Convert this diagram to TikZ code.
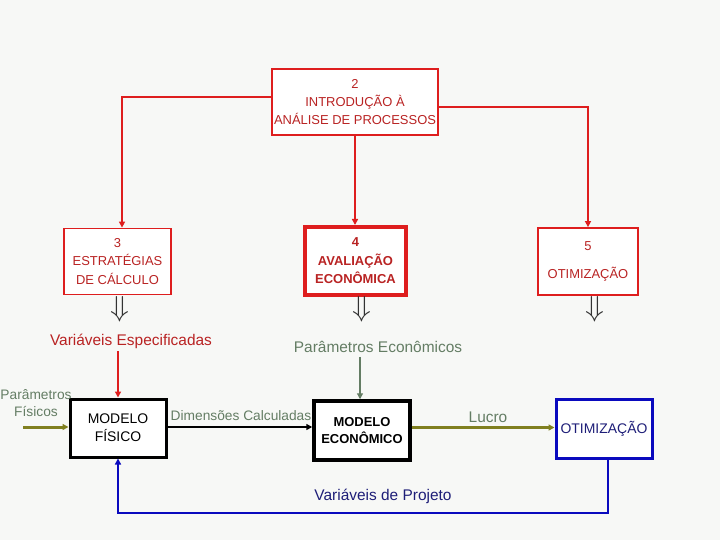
\documentclass[tikz,border=0pt]{standalone}
\usepackage{fontspec}
\setmainfont{Liberation Sans}
\usetikzlibrary{arrows.meta}
\definecolor{boxred}{RGB}{222,30,30}
\definecolor{txtred}{RGB}{185,35,35}
\definecolor{grgrey}{RGB}{100,125,100}
\definecolor{olivearr}{RGB}{128,128,32}
\definecolor{optblue}{RGB}{10,10,190}
\definecolor{navytxt}{RGB}{30,30,120}
\definecolor{bgcol}{RGB}{247,248,246}
\newcommand{\bigdown}{\scalebox{3.1}[2.9]{$\Downarrow$}}

\begin{document}
\begin{tikzpicture}[x=1bp,y=-1bp,
    redbox/.style={draw=boxred,line width=1.8bp,fill=white,text=txtred,align=center,inner sep=0pt,font=\fontsize{13}{18.5}\selectfont},
    blkbox/.style={draw=black,line width=3bp,fill=white,align=center,inner sep=0pt,font=\fontsize{14}{18}\selectfont},
    lbl/.style={text=grgrey,font=\fontsize{15}{17}\selectfont,inner sep=0pt,align=center},
    tip/.style={-{Triangle[length=6bp,width=6bp]}},
    dbl/.style={text=black!80,inner sep=0pt}
    ]
        % page
        \useasboundingbox (0,0) rectangle (720,540);
        \fill[bgcol] (0,0) rectangle (720,540);

        % Chapters
        \node[redbox,minimum width=166bp,minimum height=66bp] (intro) at (355,102) {2\\INTRODUÇÃO À\\ANÁLISE DE PROCESSOS};
        \node[redbox,minimum width=107bp,minimum height=66bp] (estrat) at (117.5,261.5) {3\\ESTRATÉGIAS\\DE CÁLCULO};
        \node[redbox,line width=4bp,minimum width=101bp,minimum height=68bp,font=\fontsize{13}{18.5}\selectfont\bfseries] (aval) at (355.5,261) {4\\AVALIAÇÃO\\ECONÔMICA};
        \node[redbox,minimum width=100bp,minimum height=67bp] (otim) at (588,261.5) {5\\[10bp]OTIMIZAÇÃO};

        \draw[boxred,line width=1.8bp,tip] ([yshift=5bp]intro.west) -| ([xshift=4.5bp]estrat.north);
        \draw[boxred,line width=1.8bp,tip] (intro.south) -- (intro.south |- aval.north);
        \draw[boxred,line width=1.8bp,tip] ([yshift=-5bp]intro.east) -| (otim.north);

        % Down arrows
        \node[dbl] (d3) at (120,309) {\bigdown};
        \node[dbl] (d4) at (362,309) {\bigdown};
        \node[dbl] (d5) at (595,309) {\bigdown};

        % Models
        \node[blkbox,minimum width=96bp,minimum height=58bp] (fis) at (118,428) {MODELO\\FÍSICO};
        \node[blkbox,line width=3.5bp,minimum width=96bp,minimum height=59bp,font=\fontsize{13}{17}\selectfont\bfseries] (eco) at (362,430.5) {MODELO\\ECONÔMICO};
        \node[blkbox,draw=optblue,minimum width=96bp,minimum height=59bp,text=navytxt] (opt) at (604,428.5) {OTIMIZAÇÃO};

        % Labels
        \node[lbl,text=txtred,font=\fontsize{15.5}{17}\selectfont] (vesp) at (131,341) {Variáveis Especificadas};
        \node[lbl,font=\fontsize{15.5}{17}\selectfont] (peco) at (378,347) {Parâmetros Econômicos};
        \node[lbl,font=\fontsize{13.8}{17}\selectfont] (pfis) at (36,403.5) {Parâmetros\\Físicos};
        \node[lbl,font=\fontsize{13.8}{17}\selectfont] (dimc) at (241,416) {Dimensões Calculadas};
        \node[lbl,font=\fontsize{15.5}{17}\selectfont] (lucro) at (488,417) {Lucro};
        \node[lbl,text=navytxt,font=\fontsize{15.5}{17}\selectfont] (vproj) at (383,496) {Variáveis de Projeto};

        % Flows
        \coordinate (entra) at (23,427);
        \coordinate (volta) at (608,513);
        \draw[olivearr,line width=3bp,tip] (entra) -- (entra -| fis.west);
        \draw[boxred,line width=1.5bp,tip] ([yshift=-3bp]vesp.south -| fis.north) -- (fis.north);
        \draw[grgrey,line width=1.3bp,tip] ([xshift=-2bp,yshift=-4bp]peco.south -| eco.north) -- ([xshift=-2bp]eco.north);
        \draw[black,line width=2.5bp,tip] ([yshift=1bp]fis.east) -- ([yshift=1bp]fis.east -| eco.west);
        \draw[olivearr,line width=3bp,tip] ([yshift=3bp]eco.east) -- ([yshift=3bp]eco.east -| opt.west);
        \draw[optblue,line width=2.5bp,tip] (volta |- opt.south) -- (volta) -| (fis.south);

\end{tikzpicture}
\end{document}
